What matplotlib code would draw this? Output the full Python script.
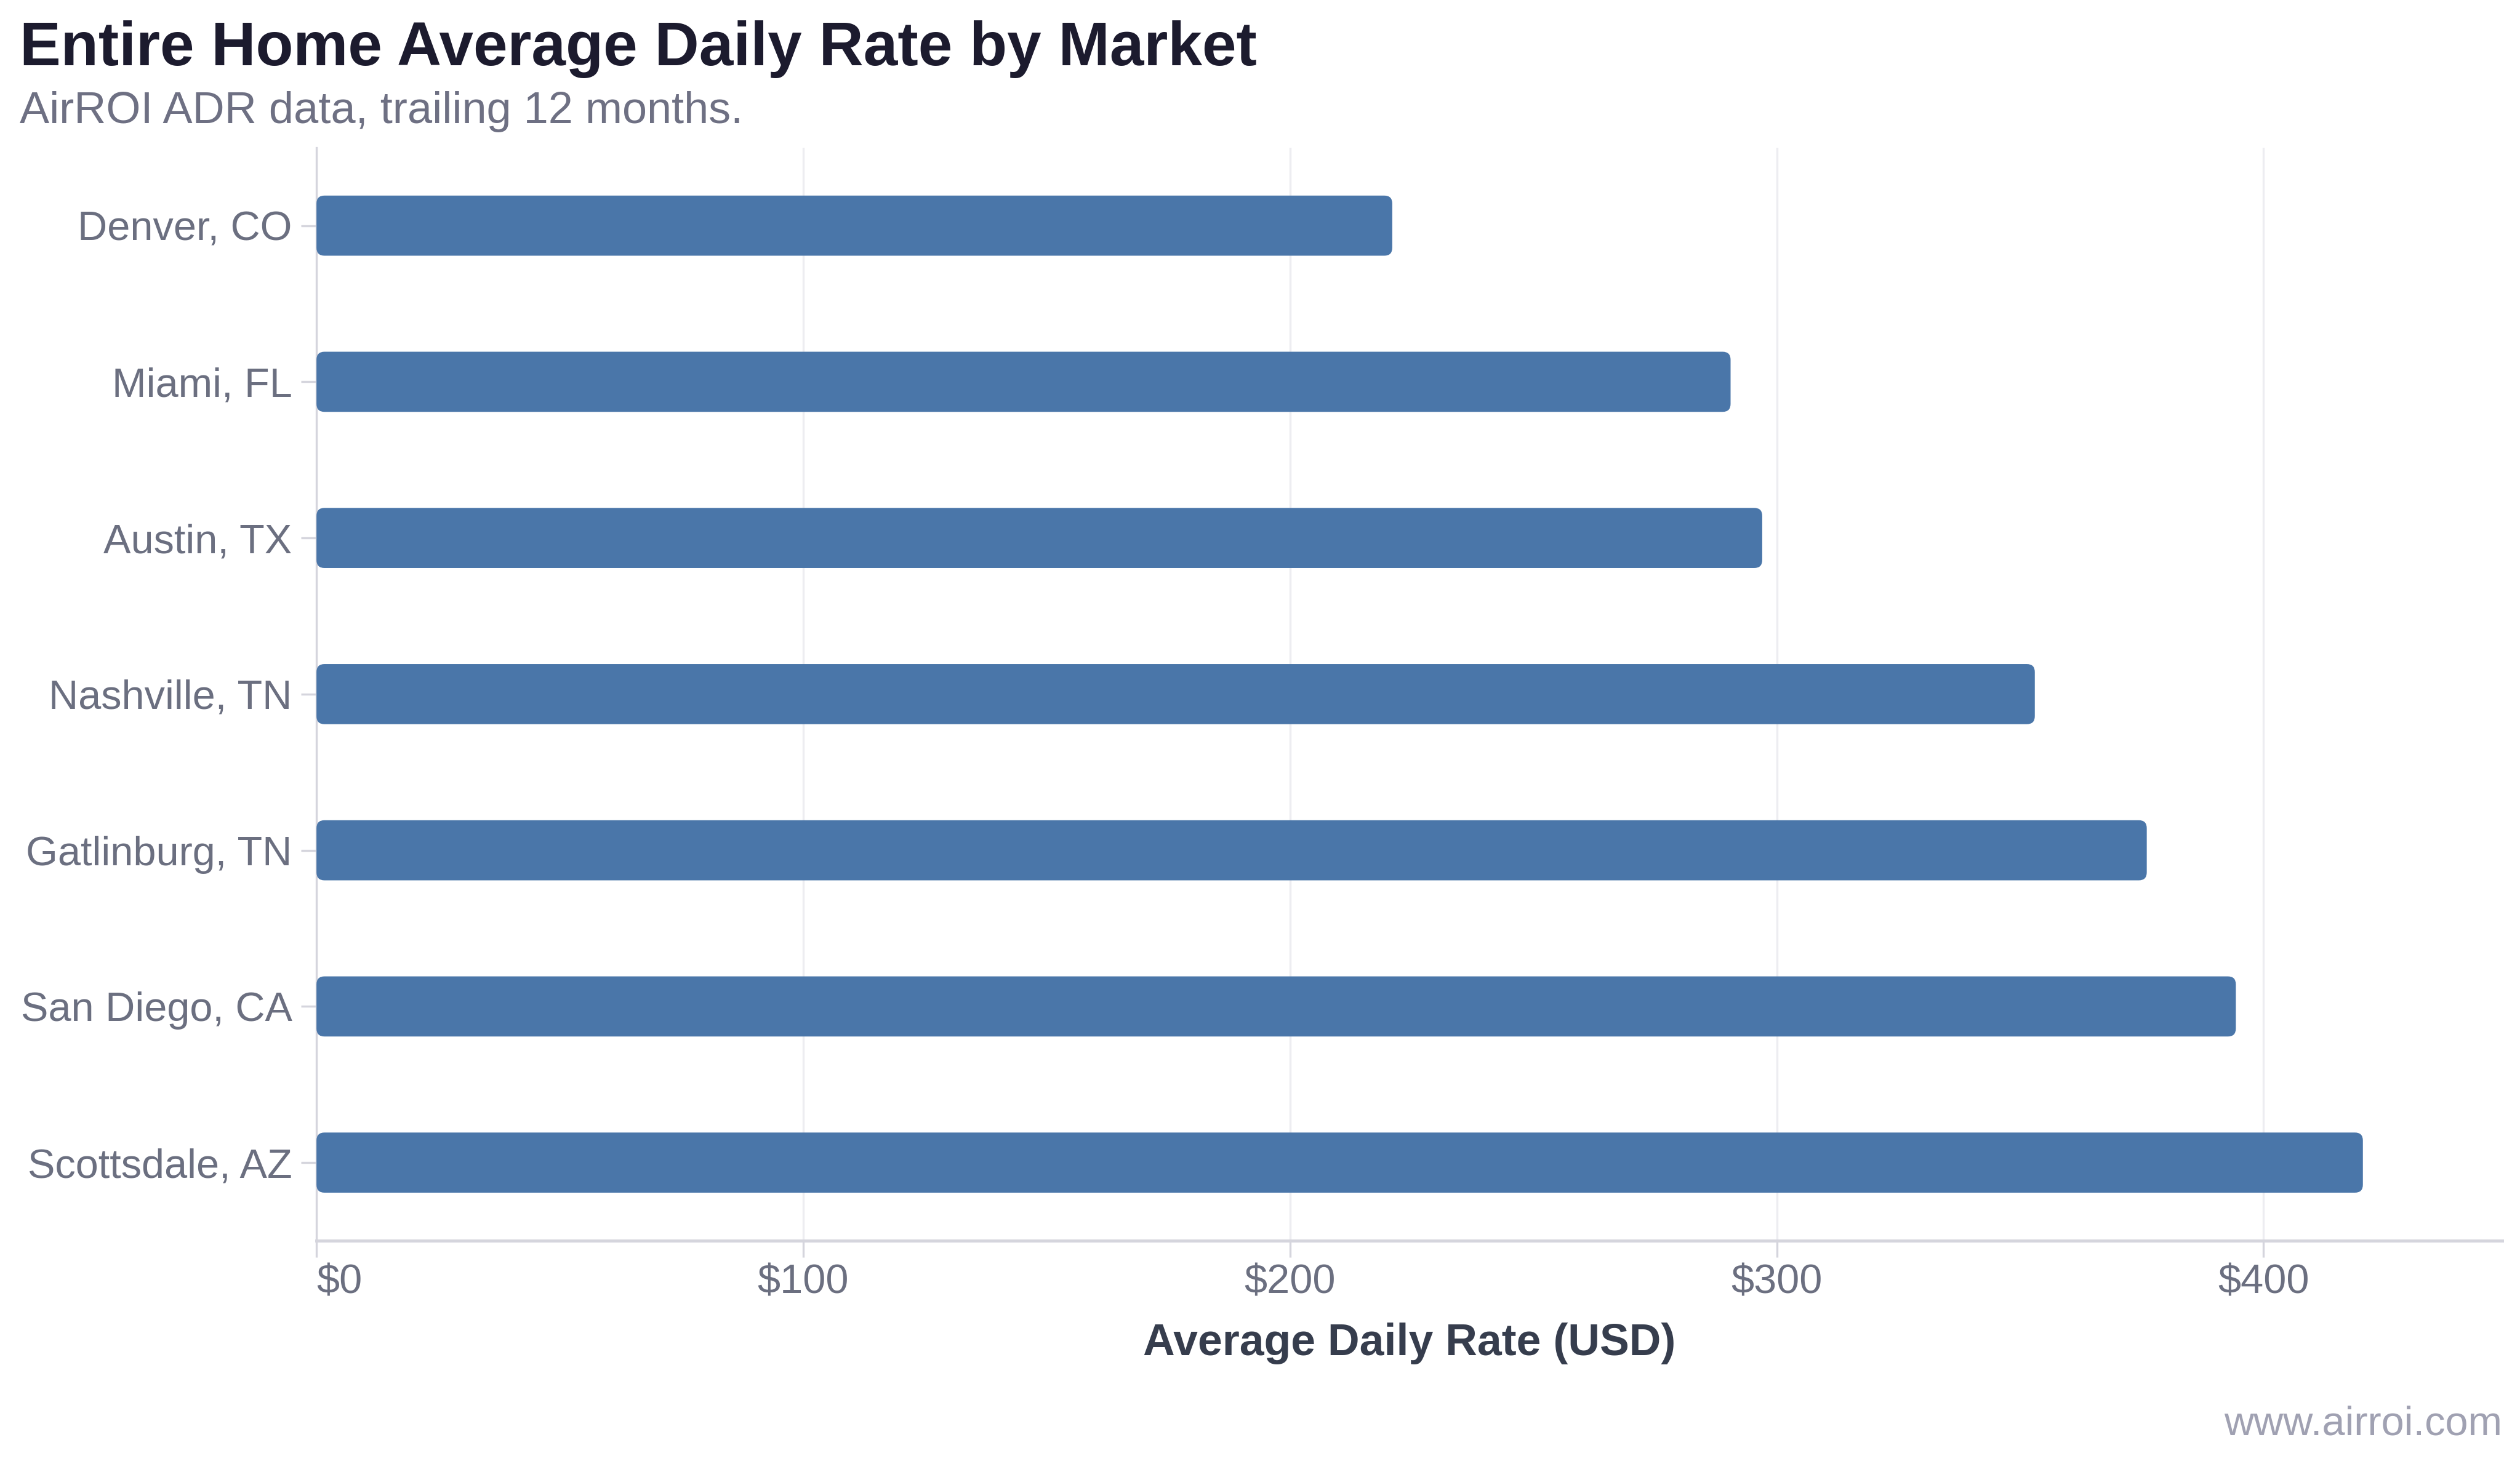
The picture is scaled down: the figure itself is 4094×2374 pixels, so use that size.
import matplotlib
matplotlib.use("Agg")
import matplotlib.pyplot as plt
from matplotlib.patches import FancyBboxPatch

# --- datos ---
markets = ["Denver, CO", "Miami, FL", "Austin, TX", "Nashville, TN",
           "Gatlinburg, TN", "San Diego, CA", "Scottsdale, AZ"]
adr = [221, 290.5, 297, 353, 376, 394.3, 420.4]
x_ticks = [0, 100, 200, 300, 400]
x_tick_labels = ["$0", "$100", "$200", "$300", "$400"]

BAR_COLOR = "#4a76a9"
TITLE_COLOR = "#1c1b2e"
SUB_COLOR = "#6e7083"
TICK_COLOR = "#6b6f80"
LABEL_COLOR = "#363d4d"
SPINE_COLOR = "#d5d5dd"
GRID_COLOR = "#ededf1"

plt.rcParams["font.family"] = ["Liberation Sans", "DejaVu Sans"]

W, H, DPI = 4094, 2374, 300
fig = plt.figure(figsize=(W / DPI, H / DPI), dpi=DPI, facecolor="white")
ax = fig.add_axes([0.1256, 0.1508, 0.8673, 0.7482])

ax.set_xlim(0, 449)
ax.set_ylim(len(markets) - 0.5, -0.5)

# escala de pixeles para redondear las esquinas
fig.canvas.draw()
p0 = ax.transData.transform((0, 0))
p1 = ax.transData.transform((1, 1))
x_per_px = 1 / abs(p1[0] - p0[0])
y_per_px = 1 / abs(p1[1] - p0[1])
radius_px = 13
bar_h = 0.385

for i, val in enumerate(adr):
    box = FancyBboxPatch((0, i - bar_h / 2), val, bar_h,
                         boxstyle=f"round,pad=0,rounding_size={radius_px * x_per_px}",
                         mutation_aspect=y_per_px / x_per_px,
                         facecolor=BAR_COLOR, edgecolor="none", zorder=3)
    ax.add_patch(box)

ax.set_yticks(range(len(markets)))
ax.set_yticklabels(markets)
ax.set_xticks(x_ticks)
ax.set_xticklabels(x_tick_labels)
ax.get_xticklabels()[0].set_horizontalalignment("left")

ax.tick_params(axis="y", length=6, width=0.8, color=SPINE_COLOR, pad=3.5,
               labelsize=16, labelcolor=TICK_COLOR)
ax.tick_params(axis="x", length=6.5, width=0.8, color=SPINE_COLOR, pad=2.5,
               labelsize=16, labelcolor=TICK_COLOR)

ax.grid(axis="x", color=GRID_COLOR, linewidth=0.8, zorder=0)
ax.set_axisbelow(True)

for s in ["top", "right"]:
    ax.spines[s].set_visible(False)
ax.spines["left"].set_color(SPINE_COLOR)
ax.spines["left"].set_linewidth(0.8)
ax.spines["bottom"].set_color(SPINE_COLOR)
ax.spines["bottom"].set_linewidth(1.2)

ax.set_xlabel("Average Daily Rate (USD)", fontsize=17.2, fontweight="bold",
              color=LABEL_COLOR, labelpad=8)

fig.text(0.0077, 0.9553, "Entire Home Average Daily Rate by Market",
         fontsize=24, fontweight="bold", color=TITLE_COLOR, va="baseline")
fig.text(0.0077, 0.9158, "AirROI ADR data, trailing 12 months.",
         fontsize=17.3, color=SUB_COLOR, va="baseline")
fig.text(0.9929, 0.018, "www.airroi.com", fontsize=16, color="#a0a1b2",
         ha="right", va="baseline")

fig.savefig("out.png", dpi=DPI, facecolor="white")
